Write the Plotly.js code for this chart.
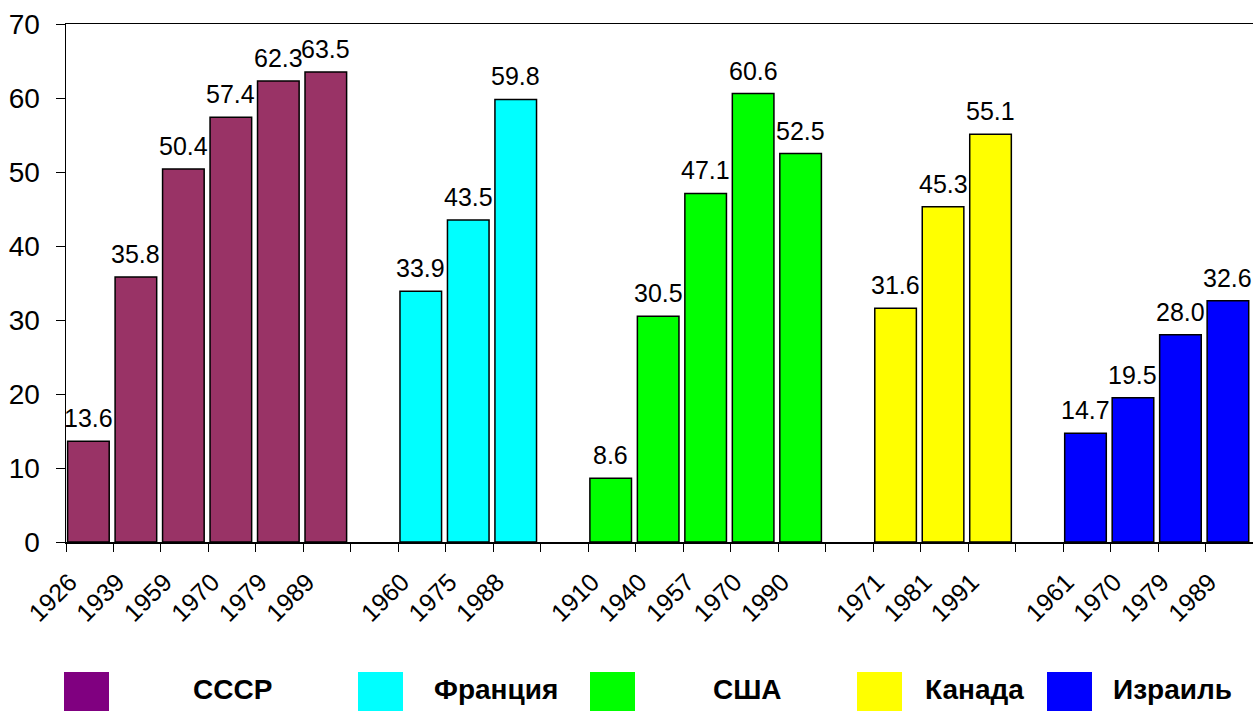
<!DOCTYPE html>
<html>
<head>
<meta charset="utf-8">
<script src="https://cdn.plot.ly/plotly-3.0.1.min.js"></script>
<style>html,body{margin:0;padding:0;background:#fff;}#chart{width:1253px;height:711px;}</style>
</head>
<body>
<div id="chart"></div>
<script>
// ---- data ----
const countries = ['СССР', 'Франция', 'США', 'Канада', 'Израиль'];
const barColors = ['#993366', '#00FFFF', '#00FF00', '#FFFF00', '#0000FF'];
const legendColors = ['#800080', '#00FFFF', '#00FF00', '#FFFF00', '#0000FF'];

const ussrYears = ['1926', '1939', '1959', '1970', '1979', '1989'];
const ussrValues = [13.6, 35.8, 50.4, 57.4, 62.3, 63.5];
const franceYears = ['1960', '1975', '1988'];
const franceValues = [33.9, 43.5, 59.8];
const usaYears = ['1910', '1940', '1957', '1970', '1990'];
const usaValues = [8.6, 30.5, 47.1, 60.6, 52.5];
const canadaYears = ['1971', '1981', '1991'];
const canadaValues = [31.6, 45.3, 55.1];
const israelYears = ['1961', '1970', '1979', '1989'];
const israelValues = [14.7, 19.5, 28.0, 32.6];

const yTicks = [0, 10, 20, 30, 40, 50, 60, 70];

// ---- build ----
const yearGroups = [ussrYears, franceYears, usaYears, canadaYears, israelYears];
const valueGroups = [ussrValues, franceValues, usaValues, canadaValues, israelValues];

const FONT = 'Liberation Sans, Arial, sans-serif';
const BAR_W = 0.876, BAR_OFF = -0.466;
let pos = 0;
const traces = [];
const tickvals = [], ticktext = [];
const annotations = [];
yearGroups.forEach((years, g) => {
  const xs = years.map((_, i) => pos + i);
  xs.forEach((x, i) => {
    tickvals.push(x); ticktext.push(years[i]);
    annotations.push({
      xref: 'x', yref: 'y',
      x: x + BAR_OFF + BAR_W / 2, y: valueGroups[g][i],
      text: valueGroups[g][i].toFixed(1),
      showarrow: false, xanchor: 'center', yanchor: 'bottom', yshift: 7,
      font: { family: FONT, size: 25, color: '#000' }
    });
  });
  traces.push({
    type: 'bar',
    name: countries[g],
    x: xs,
    y: valueGroups[g],
    width: BAR_W,
    offset: BAR_OFF,
    marker: { color: barColors[g], line: { color: '#000', width: 1.5 } },
    hoverinfo: 'x+y'
  });
  pos += years.length + 1;
});
const nSlots = pos - 1; // total category slots incl. gaps

const L = 66, R = 0, T = 24, B = 169, W = 1253, H = 711;
const pw = W - L - R, ph = H - T - B;
const px2x = p => (p - L) / pw;
const py2y = p => (H - B - p) / ph;

const sqLeft = [64, 358, 590, 857, 1047];
const labelCenter = [232, 496, 747, 974, 1172];
const shapes = [];
countries.forEach((c, i) => {
  shapes.push({
    type: 'rect', xref: 'paper', yref: 'paper',
    x0: px2x(sqLeft[i]), x1: px2x(sqLeft[i] + 45),
    y0: py2y(672), y1: py2y(714),
    fillcolor: legendColors[i], line: { width: 0 }
  });
  annotations.push({
    xref: 'paper', yref: 'paper',
    x: px2x(labelCenter[i]), y: py2y(689),
    xanchor: 'center', yanchor: 'middle',
    text: '<b>' + c + '</b>', showarrow: false,
    font: { family: FONT, size: 28, color: '#000' }
  });
});

const layout = {
  width: W, height: H,
  margin: { l: L, r: R, t: T, b: B, pad: 0 },
  paper_bgcolor: '#fff', plot_bgcolor: '#fff',
  showlegend: false,
  font: { family: FONT, color: '#000' },
  xaxis: {
    range: [-0.5, nSlots - 0.5],
    tickmode: 'array', tickvals: tickvals, ticktext: ticktext,
    tickangle: -45,
    ticks: '', ticklen: 0,
    ticklabelshift: -20,
    ticklabelstandoff: 14,
    tickfont: { family: FONT, size: 25, color: '#000' },
    showline: true, linecolor: '#000', linewidth: 1.5, mirror: true,
    showgrid: false, zeroline: false,
    minor: { tick0: 0.5, dtick: 1, ticks: 'outside', ticklen: 8, tickcolor: '#000', tickwidth: 1, showgrid: false }
  },
  yaxis: {
    range: [0, 70],
    tickmode: 'array', tickvals: yTicks,
    ticks: 'outside', ticklen: 9, tickcolor: '#000', tickwidth: 1,
    ticklabelstandoff: 10,
    tickfont: { family: FONT, size: 28, color: '#000' },
    showline: true, linecolor: '#000', linewidth: 1.5,
    showgrid: false, zeroline: false
  },
  shapes: shapes,
  annotations: annotations
};

Plotly.newPlot('chart', traces, layout, { displayModeBar: false, staticPlot: true });
</script>
</body>
</html>
